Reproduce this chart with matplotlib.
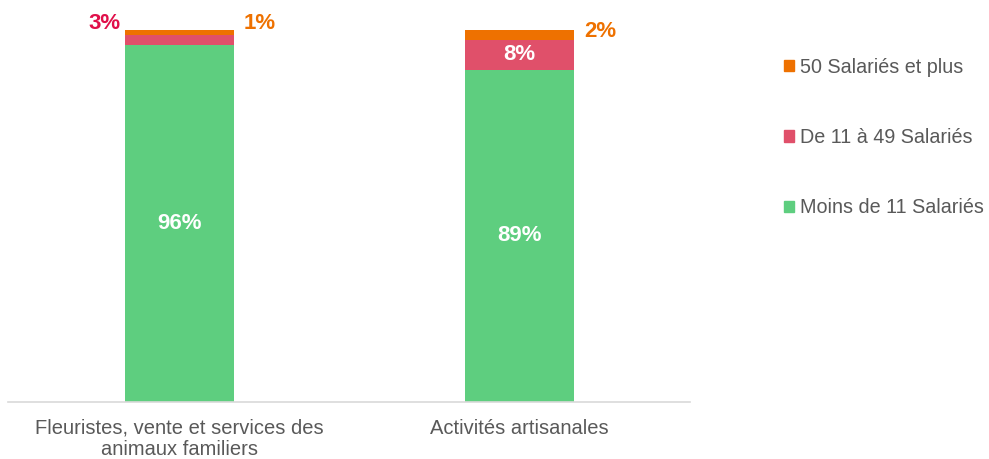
import matplotlib
matplotlib.use("Agg")
import matplotlib.pyplot as plt
from matplotlib.patches import Patch

plt.rcParams['font.family'] = ['Liberation Sans', 'DejaVu Sans']

categories = ["Fleuristes, vente et services des\nanimaux familiers", "Activités artisanales"]
series_names = ["Moins de 11 Salariés", "De 11 à 49 Salariés", "50 Salariés et plus"]
moins_11 = [96.0, 89.3]
de_11_49 = [2.7, 8.0]
plus_50 = [1.3, 2.7]
labels_moins_11 = ["96%", "89%"]
labels_de_11_49 = ["3%", "8%"]
labels_plus_50 = ["1%", "2%"]

c_green = "#5ECE7F"
c_red = "#E0506A"
c_orange = "#EE7100"
c_text = "#595959"

fig = plt.figure(figsize=(9.89, 4.59), dpi=100)
ax = fig.add_axes([8/989, 1-402/459, 682/989, 372/459])

x = [0, 1]
w = 0.32
ax.bar(x, moins_11, w, color=c_green)
ax.bar(x, de_11_49, w, bottom=moins_11, color=c_red)
bot3 = [a + b for a, b in zip(moins_11, de_11_49)]
ax.bar(x, plus_50, w, bottom=bot3, color=c_orange)

ax.set_xlim(-0.504, 1.501)
ax.set_ylim(0, 100)

fs_lab = 16
for i in x:
    ax.text(i, moins_11[i] / 2, labels_moins_11[i], ha="center", va="center",
            color="white", fontsize=fs_lab, fontweight="bold")
# bar 1: small segments labelled outside
ax.text(0 - w/2 - 0.012, 101.8, labels_de_11_49[0], ha="right", va="center",
        color="#E0104A", fontsize=fs_lab, fontweight="bold", clip_on=False)
ax.text(0 + w/2 + 0.03, 101.8, labels_plus_50[0], ha="left", va="center",
        color=c_orange, fontsize=fs_lab, fontweight="bold", clip_on=False)
# bar 2
ax.text(1, moins_11[1] + de_11_49[1] / 2, labels_de_11_49[1], ha="center", va="center",
        color="white", fontsize=fs_lab, fontweight="bold")
ax.text(1 + w/2 + 0.03, 99.5, labels_plus_50[1], ha="left", va="center",
        color=c_orange, fontsize=fs_lab, fontweight="bold", clip_on=False)

ax.set_xticks(x)
ax.set_xticklabels(categories, fontsize=14.5, color=c_text, linespacing=1.15)
ax.tick_params(axis="x", length=0, pad=12)
ax.set_yticks([])
for s in ["top", "right", "left"]:
    ax.spines[s].set_visible(False)
ax.spines["bottom"].set_color("#D9D9D9")
ax.spines["bottom"].set_linewidth(1.2)

handles = [Patch(color=c_orange), Patch(color=c_red), Patch(color=c_green)]
leg = fig.legend(handles, [series_names[2], series_names[1], series_names[0]],
                 loc="upper left", bbox_to_anchor=(766/989, 1-40/459),
                 frameon=False, fontsize=14.2, labelspacing=2.6,
                 handlelength=0.5, handleheight=0.5, handletextpad=0.3)
for t in leg.get_texts():
    t.set_color(c_text)

fig.savefig("out.png", dpi=100)
